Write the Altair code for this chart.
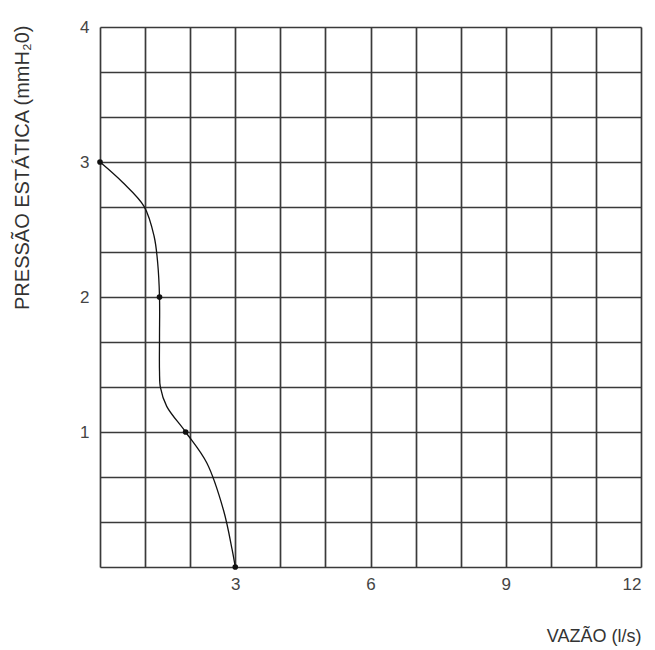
import altair as alt
import pandas as pd

# marked points (vazão l/s, pressão mmH2O)
pt_x = [0.0, 1.32, 1.9, 3.0]
pt_y = [3.0, 2.0, 1.0, 0.0]

# points
cv_x = [0.0, 0.5, 0.98, 1.2, 1.28, 1.32, 1.32, 1.32, 1.34, 1.48, 1.9, 2.37, 2.74, 2.93, 3.0]
cv_y = [3.0, 2.85, 2.67, 2.45, 2.25, 2.0, 1.7, 1.45, 1.33, 1.19, 1.0, 0.77, 0.42, 0.13, 0.0]

x_grid = list(range(0, 13))
y_grid = [i / 3 for i in range(0, 13)]

pts = pd.DataFrame({"x": pt_x, "y": pt_y})
cv = pd.DataFrame({"x": cv_x, "y": cv_y, "o": list(range(len(cv_x)))})

FONT = "Liberation Sans"

xscale = alt.Scale(domain=[0, 12], nice=False, zero=False)
yscale = alt.Scale(domain=[0, 4], nice=False, zero=False)

xaxis = alt.Axis(
    values=x_grid, grid=True, gridColor="#3a3a3a", gridWidth=1.7, gridOpacity=1,
    domain=False, ticks=False, labelFontSize=17, labelColor="#444", labelFont=FONT,
    labelPadding=9,
    labelExpr="datum.value > 0 && datum.value % 3 == 0 ? datum.label : ''",
    title="VAZÃO (l/s)", titleFont=FONT, titleFontSize=18, titleFontWeight="normal",
    titleColor="#333", titleAlign="right", titleAnchor="end", titleX=541, titleY=69,
    titleBaseline="middle",
)
yaxis = alt.Axis(
    values=y_grid, grid=True, gridColor="#3a3a3a", gridWidth=1.7, gridOpacity=1,
    domain=False, ticks=False, labelFontSize=17, labelColor="#444", labelFont=FONT,
    labelPadding=11,
    labelExpr="datum.value > 0.5 && abs(datum.value - round(datum.value)) < 0.01 ? format(round(datum.value), 'd') : ''",
    title="PRESSÃO ESTÁTICA (mmH₂0)", titleFont=FONT, titleFontSize=20,
    titleFontWeight="normal", titleColor="#333", titleAngle=270,
    titleAlign="right", titleBaseline="middle", titleX=-78, titleY=-2,
)

line = alt.Chart(cv).mark_line(color="#111", strokeWidth=1.3, interpolate="catmull-rom").encode(
    x=alt.X("x:Q", scale=xscale, axis=xaxis),
    y=alt.Y("y:Q", scale=yscale, axis=yaxis),
    order="o:Q",
)
dots = alt.Chart(pts).mark_circle(color="#111", size=32, opacity=1).encode(
    x=alt.X("x:Q", scale=xscale),
    y=alt.Y("y:Q", scale=yscale),
)

chart = (line + dots).properties(
    width=541, height=540,
    autosize=alt.AutoSizeParams(type="none"),
    padding={"left": 92, "top": 19, "right": 6, "bottom": 83},
).configure_view(stroke=None).configure(background="white")

chart.save("out.html", embed_options={"renderer": "svg", "actions": False})
